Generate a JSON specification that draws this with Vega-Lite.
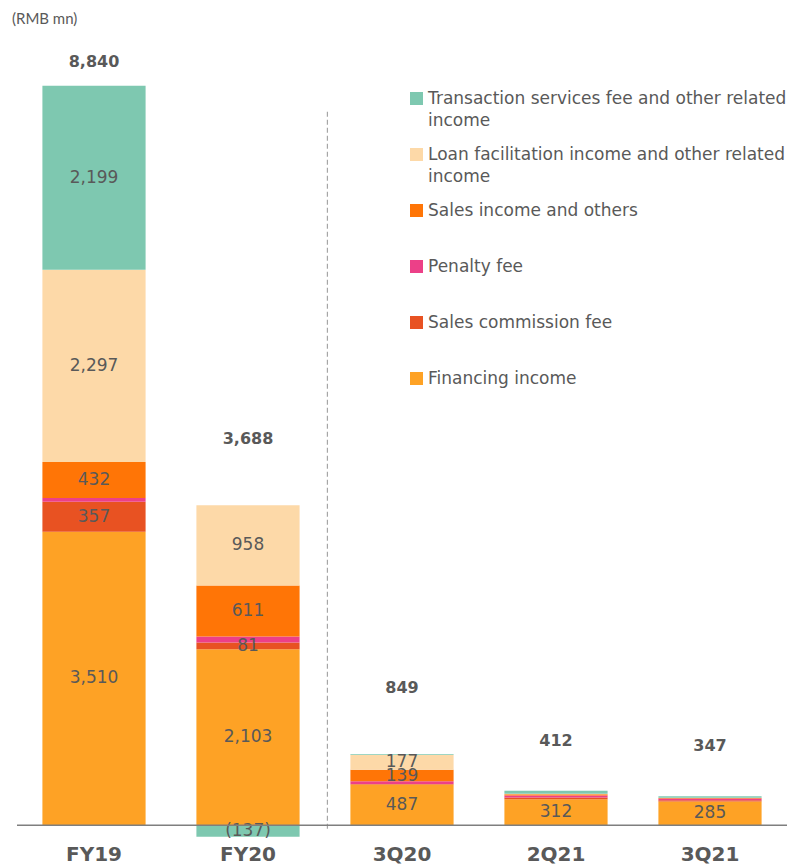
{
  "$schema": "https://vega.github.io/schema/vega-lite/v6.json",
  "autosize": "none",
  "width": 770,
  "height": 803,
  "padding": {"left": 17, "top": 39, "right": 0, "bottom": 24},
  "background": "white",
  "config": {"view": {"stroke": null}, "font": "Lato", "style": {"guide-label": {"lineHeight": 22}}},
  "title": {"text": "(RMB mn)", "anchor": "start", "frame": "group", "fontSize": 15, "fontWeight": "normal", "color": "#595959", "offset": 12, "dx": -5, "font": "Lato"},
  "datasets": {
    "rev": [
      {"period": "FY19", "category": "Financing income", "order": 1, "value": 3510, "label": "3,510"},
      {"period": "FY19", "category": "Sales commission fee", "order": 2, "value": 357, "label": "357"},
      {"period": "FY19", "category": "Penalty fee", "order": 3, "value": 45, "label": ""},
      {"period": "FY19", "category": "Sales income and others", "order": 4, "value": 432, "label": "432"},
      {"period": "FY19", "category": "Loan facilitation income and other related income", "order": 5, "value": 2297, "label": "2,297"},
      {"period": "FY19", "category": "Transaction services fee and other related income", "order": 6, "value": 2199, "label": "2,199"},
      {"period": "FY20", "category": "Financing income", "order": 1, "value": 2103, "label": "2,103"},
      {"period": "FY20", "category": "Sales commission fee", "order": 2, "value": 81, "label": "81"},
      {"period": "FY20", "category": "Penalty fee", "order": 3, "value": 72, "label": ""},
      {"period": "FY20", "category": "Sales income and others", "order": 4, "value": 611, "label": "611"},
      {"period": "FY20", "category": "Loan facilitation income and other related income", "order": 5, "value": 958, "label": "958"},
      {"period": "FY20", "category": "Transaction services fee and other related income", "order": 6, "value": -137, "label": "(137)"},
      {"period": "3Q20", "category": "Financing income", "order": 1, "value": 487, "label": "487"},
      {"period": "3Q20", "category": "Sales commission fee", "order": 2, "value": 6, "label": ""},
      {"period": "3Q20", "category": "Penalty fee", "order": 3, "value": 32, "label": ""},
      {"period": "3Q20", "category": "Sales income and others", "order": 4, "value": 139, "label": "139"},
      {"period": "3Q20", "category": "Loan facilitation income and other related income", "order": 5, "value": 177, "label": "177"},
      {"period": "3Q20", "category": "Transaction services fee and other related income", "order": 6, "value": 8, "label": ""},
      {"period": "2Q21", "category": "Financing income", "order": 1, "value": 312, "label": "312"},
      {"period": "2Q21", "category": "Sales commission fee", "order": 2, "value": 20, "label": ""},
      {"period": "2Q21", "category": "Penalty fee", "order": 3, "value": 25, "label": ""},
      {"period": "2Q21", "category": "Sales income and others", "order": 4, "value": 15, "label": ""},
      {"period": "2Q21", "category": "Loan facilitation income and other related income", "order": 5, "value": 5, "label": ""},
      {"period": "2Q21", "category": "Transaction services fee and other related income", "order": 6, "value": 35, "label": ""},
      {"period": "3Q21", "category": "Financing income", "order": 1, "value": 285, "label": "285"},
      {"period": "3Q21", "category": "Sales commission fee", "order": 2, "value": 15, "label": ""},
      {"period": "3Q21", "category": "Penalty fee", "order": 3, "value": 20, "label": ""},
      {"period": "3Q21", "category": "Sales income and others", "order": 4, "value": 5, "label": ""},
      {"period": "3Q21", "category": "Loan facilitation income and other related income", "order": 5, "value": 5, "label": ""},
      {"period": "3Q21", "category": "Transaction services fee and other related income", "order": 6, "value": 17, "label": ""}
    ],
    "totals": [
      {"period": "FY19", "total": 8840, "label": "8,840", "grp": "a"},
      {"period": "FY20", "total": 3825, "label": "3,688", "grp": "b"},
      {"period": "3Q20", "total": 849, "label": "849", "grp": "b"},
      {"period": "2Q21", "total": 412, "label": "412", "grp": "c"},
      {"period": "3Q21", "total": 347, "label": "347", "grp": "c"}
    ]
  },
  "layer": [
    {
      "data": {"name": "rev"},
      "mark": {"type": "bar"},
      "encoding": {
        "x": {"field": "period", "type": "nominal",
              "scale": {"domain": ["FY19", "FY20", "3Q20", "2Q21", "3Q21"], "paddingInner": 0.33, "paddingOuter": 0.165},
              "axis": {"title": null, "domain": false, "ticks": false, "labelAngle": 0, "labelFontSize": 20, "labelFontWeight": "bold", "labelColor": "#595959", "labelPadding": 2, "labelBaseline": "top", "labelFont": "DejaVu Sans"}},
        "y": {"field": "value", "type": "quantitative", "stack": "zero",
              "scale": {"domain": [-200, 9400], "nice": false, "zero": false},
              "axis": null},
        "order": {"field": "order", "type": "quantitative"},
        "color": {"field": "category", "type": "nominal",
                  "scale": {
                    "domain": ["Transaction services fee and other related income", "Loan facilitation income and other related income", "Sales income and others", "Penalty fee", "Sales commission fee", "Financing income"],
                    "range": ["#7ec8b0", "#fdd9a8", "#ff7506", "#ec4088", "#e85222", "#fea225"]
                  },
                  "legend": {"title": null, "orient": "none", "legendX": 391, "legendY": 51,
                             "symbolType": "square", "symbolSize": 170, "symbolStrokeWidth": 0,
                             "labelFontSize": 17, "labelColor": "#595959", "labelFont": "DejaVu Sans", "labelOffset": 3,
                             "labelLimit": 400, "gridAlign": "all", "rowPadding": 16,
                             "labelExpr": "datum.label == 'Transaction services fee and other related income' ? ['Transaction services fee and other related', 'income'] : datum.label == 'Loan facilitation income and other related income' ? ['Loan facilitation income and other related', 'income'] : datum.label"}}
      }
    },
    {
      "data": {"name": "rev"},
      "transform": [
        {"stack": "value", "groupby": ["period"], "sort": [{"field": "order"}], "as": ["v0", "v1"], "offset": "zero"},
        {"calculate": "(datum.v0 + datum.v1) / 2", "as": "mid"}
      ],
      "mark": {"type": "text", "fontSize": 17, "color": "#595959", "baseline": "middle", "font": "DejaVu Sans"},
      "encoding": {
        "x": {"field": "period", "type": "nominal"},
        "y": {"field": "mid", "type": "quantitative"},
        "text": {"field": "label"}
      }
    },
    {
      "data": {"name": "totals"},
      "transform": [{"filter": "datum.grp == 'a'"}],
      "mark": {"type": "text", "fontSize": 16, "fontWeight": "bold", "color": "#595959", "baseline": "middle", "dy": -24, "font": "DejaVu Sans"},
      "encoding": {
        "x": {"field": "period", "type": "nominal"},
        "y": {"field": "total", "type": "quantitative"},
        "text": {"field": "label"}
      }
    },
    {
      "data": {"name": "totals"},
      "transform": [{"filter": "datum.grp == 'b'"}],
      "mark": {"type": "text", "fontSize": 16, "fontWeight": "bold", "color": "#595959", "baseline": "middle", "dy": -66, "font": "DejaVu Sans"},
      "encoding": {
        "x": {"field": "period", "type": "nominal"},
        "y": {"field": "total", "type": "quantitative"},
        "text": {"field": "label"}
      }
    },
    {
      "data": {"name": "totals"},
      "transform": [{"filter": "datum.grp == 'c'"}],
      "mark": {"type": "text", "fontSize": 16, "fontWeight": "bold", "color": "#595959", "baseline": "middle", "dy": -50, "font": "DejaVu Sans"},
      "encoding": {
        "x": {"field": "period", "type": "nominal"},
        "y": {"field": "total", "type": "quantitative"},
        "text": {"field": "label"}
      }
    },
    {
      "data": {"values": [{"p": "3Q20", "top": 8530, "bottom": -60}]},
      "mark": {"type": "rule", "strokeDash": [5, 3], "color": "#a6a6a6", "strokeWidth": 1.2, "xOffset": -23},
      "encoding": {
        "x": {"field": "p", "type": "nominal", "bandPosition": 0},
        "y": {"field": "top", "type": "quantitative"},
        "y2": {"field": "bottom"}
      }
    },
    {
      "data": {"values": [{"zero": 0}]},
      "mark": {"type": "rule", "color": "#7f7f7f", "strokeWidth": 1.5},
      "encoding": {"y": {"field": "zero", "type": "quantitative"}}
    }
  ]
}
